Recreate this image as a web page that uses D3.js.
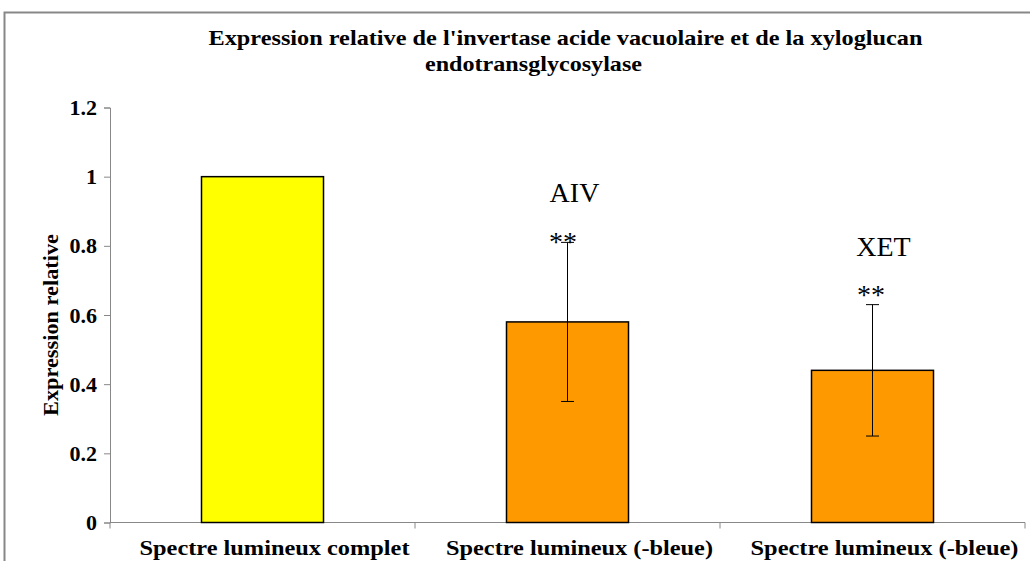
<!DOCTYPE html>
<html><head><meta charset="utf-8">
<script src="https://cdn.jsdelivr.net/npm/d3@7"></script>
<style>body{margin:0;background:#fff}svg{display:block}</style>
</head><body>
<script>
const categories = ["Spectre lumineux complet", "Spectre lumineux (-bleue)", "Spectre lumineux (-bleue)"];
const values = [1.0, 0.58, 0.44];
const errors = [null, 0.23, 0.19];
const barColors = ["#FFFF00", "#FF9900", "#FF9900"];
const geneLabels = ["", "AIV", "XET"];
const signif = ["", "**", "**"];
const yTicks = [0, 0.2, 0.4, 0.6, 0.8, 1, 1.2];
const titleLines = ["Expression relative de l'invertase acide vacuolaire et de la xyloglucan", "endotransglycosylase"];
const yTitle = "Expression relative";

const W = 1030, H = 561;
const svg = d3.select("body").append("svg").attr("width", W).attr("height", H);
const serif = "'Liberation Serif','Times New Roman',serif";

// outer frame
svg.append("path").attr("d", `M4.5,${H} V12.5 H${W}`).attr("fill","none").attr("stroke","#888").attr("stroke-width",2);

const x = d3.scaleBand().domain(d3.range(categories.length)).range([110, 1025]).paddingInner(0).paddingOuter(0);
const y = d3.scaleLinear().domain([0, 1.2]).range([522.5, 107.5]);

// title
const titlePos = [{cx:565.5, y:45, len:714}, {cx:533.5, y:71, len:217}];
svg.append("g").selectAll("text").data(titleLines).join("text")
  .attr("x", (d,i) => titlePos[i].cx).attr("y", (d,i) => titlePos[i].y)
  .attr("text-anchor","middle").attr("font-family",serif).attr("font-weight","bold")
  .attr("font-size",22)
  .attr("textLength",(d,i)=> titlePos[i].len).attr("lengthAdjust","spacingAndGlyphs")
  .text(d=>d);

// y axis
const yAxis = svg.append("g").attr("transform","translate(110,0)")
  .call(d3.axisLeft(y).tickValues(yTicks).tickSize(6).tickPadding(7).tickFormat(d3.format("~g")));
yAxis.select(".domain").attr("stroke","#888");
yAxis.selectAll(".tick line").attr("stroke","#888");
yAxis.selectAll("text").attr("font-family",serif).attr("font-weight","bold").attr("font-size",22).attr("fill","#000");

// x axis
const xAxisG = svg.append("g").attr("transform",`translate(0,${y(0)})`);
xAxisG.append("line").attr("x1",110).attr("x2",1025).attr("stroke","#888").attr("stroke-width",1.2);
xAxisG.selectAll(".xt").data(d3.range(categories.length+1)).join("line")
  .attr("x1",i=> i<categories.length ? x(i) : x.range()[1]).attr("x2",i=> i<categories.length ? x(i) : x.range()[1])
  .attr("y1",0).attr("y2",6).attr("stroke","#888");

// y title
svg.append("text").attr("transform","translate(58,325) rotate(-90)")
  .attr("text-anchor","middle").attr("font-family",serif).attr("font-weight","bold").attr("font-size",22)
  .attr("textLength",182).attr("lengthAdjust","spacingAndGlyphs")
  .text(yTitle);

// bars
const bw = 122;
svg.append("g").selectAll("rect").data(values).join("rect")
  .attr("x",(d,i)=> x(i)+x.bandwidth()/2 - bw/2).attr("width",bw)
  .attr("y",d=>y(d)).attr("height",d=>y(0)-y(d))
  .attr("fill",(d,i)=>barColors[i]).attr("stroke","#000").attr("stroke-width",1.5);

// error bars
const eb = svg.append("g").attr("stroke","#000").attr("stroke-width",1);
values.forEach((v,i)=>{
  if (errors[i]==null) return;
  const cx = x(i)+x.bandwidth()/2;
  eb.append("line").attr("x1",cx).attr("x2",cx).attr("y1",y(v+errors[i])).attr("y2",y(v-errors[i]));
  [v+errors[i], v-errors[i]].forEach(e=>{
    eb.append("line").attr("x1",cx-6.5).attr("x2",cx+6.5).attr("y1",y(e)).attr("y2",y(e));
  });
});

// annotations (offsets relative to the error-bar top)
const geneOff = [null, {dx:7, dy:-40.5}, {dx:11, dy:-49}];
const starOff = [null, {dx:-4.5, dy:8.5}, {dx:-1.5, dy:-0.5}];
values.forEach((v,i)=>{
  if (!geneLabels[i]) return;
  const cx = x(i)+x.bandwidth()/2;
  const top = y(v+errors[i]);
  svg.append("text").attr("x",cx+starOff[i].dx).attr("y",top+starOff[i].dy).attr("text-anchor","middle")
    .attr("font-family",serif).attr("font-size",28).text(signif[i]);
  svg.append("text").attr("x",cx+geneOff[i].dx).attr("y",top+geneOff[i].dy).attr("text-anchor","middle")
    .attr("font-family",serif).attr("font-size",28).text(geneLabels[i]);
});

// category labels
const catLen = [270, 267, 268];
svg.append("g").selectAll("text").data(categories).join("text")
  .attr("x",(d,i)=> x(i)+x.bandwidth()/2 + 12).attr("y",555)
  .attr("text-anchor","middle").attr("font-family",serif).attr("font-weight","bold").attr("font-size",22)
  .attr("textLength",(d,i)=>catLen[i]).attr("lengthAdjust","spacingAndGlyphs")
  .text(d=>d);
</script>
</body></html>
